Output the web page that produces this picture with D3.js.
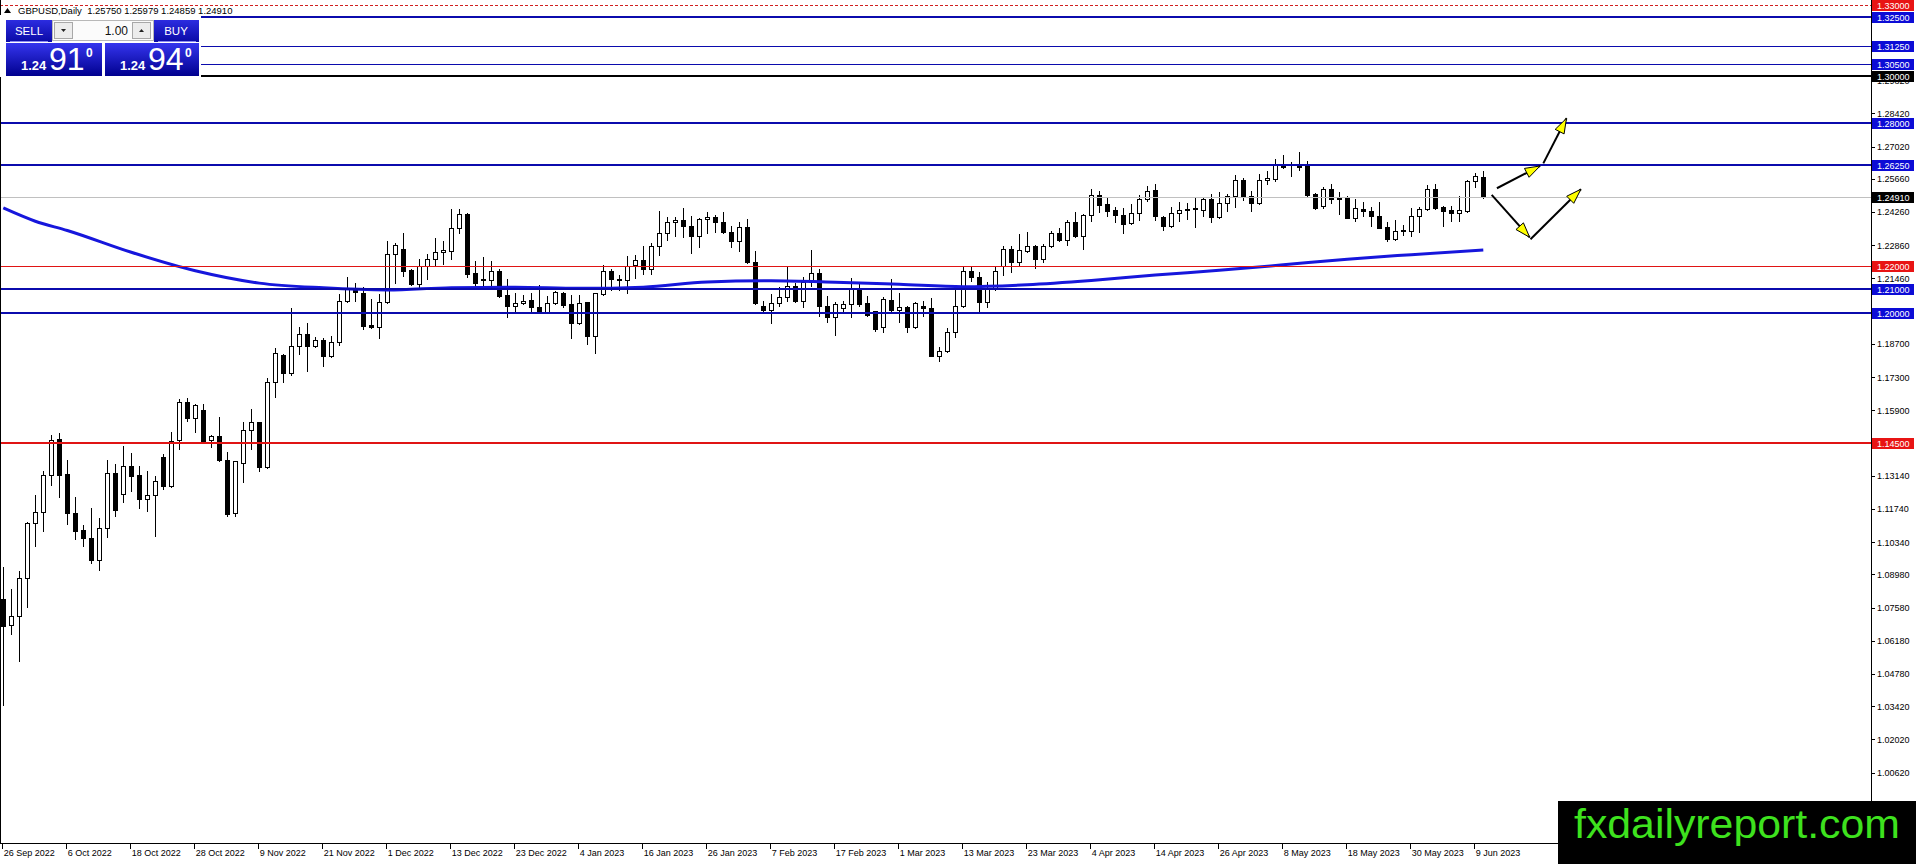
<!DOCTYPE html>
<html>
<head>
<meta charset="utf-8">
<script src="https://cdn.jsdelivr.net/npm/d3@7"></script>
<style>
  html, body { margin: 0; padding: 0; background: #fff; overflow: hidden; }
  svg { display: block; font-family: "Liberation Sans", Arial, sans-serif; }
</style>
</head>
<body>
<div id="vis"></div>
<script>
const W = 1916, H = 864;
const plot = { left: 0, right: 1871, top: 0, bottom: 843 };

// --- daily GBPUSD candles, 26 Sep 2022 .. 12 Jun 2023 ---
const opens = [
  1.0794,1.0685,1.0724,1.0881,1.1114,1.1159,1.1317,1.1468,1.1321,1.1155,1.1085,1.1051,1.0960,1.1092,1.1325,1.1235,
  1.1353,1.1317,1.1216,1.1232,1.1391,1.1272,1.1466,1.1623,1.1556,1.1591,1.1463,1.1480,1.1381,1.1155,1.1367,1.1508,
  1.1539,1.1349,1.1707,1.1822,1.1749,1.1859,1.1910,1.1859,1.1886,1.1817,1.1879,1.2049,1.2105,1.2086,1.1948,1.1940,
  1.2048,1.2249,1.2269,1.2182,1.2121,1.2199,1.2227,1.2256,1.2263,1.2357,1.2418,1.2168,1.2144,1.2138,1.2179,1.2076,
  1.2031,1.2041,1.2055,1.2024,1.2006,1.2044,1.2083,1.2038,1.1957,1.2045,1.1903,1.2079,1.2177,1.2142,1.2140,1.2203,
  1.2224,1.2184,1.2283,1.2336,1.2383,1.2392,1.2368,1.2326,1.2395,1.2404,1.2383,1.2340,1.2305,1.2361,1.2217,1.2031,
  1.2014,1.2041,1.2066,1.2112,1.2052,1.2132,1.2167,1.2028,1.1982,1.2020,1.2036,1.2101,1.2041,1.2007,1.1939,1.2056,
  1.2014,1.2024,1.1939,1.2029,1.2020,1.1820,1.1838,1.1918,1.2028,1.2178,1.2150,1.2048,1.2101,1.2199,1.2270,1.2213,
  1.2263,1.2284,1.2227,1.2281,1.2337,1.2309,1.2385,1.2326,1.2413,1.2497,1.2458,1.2434,1.2413,1.2378,1.2421,1.2480,
  1.2520,1.2403,1.2368,1.2420,1.2438,1.2437,1.2434,1.2480,1.2403,1.2464,1.2492,1.2561,1.2492,1.2464,1.2561,1.2565,
  1.2624,1.2617,1.2621,1.2621,1.2502,1.2452,1.2523,1.2485,1.2485,1.2402,1.2438,1.2431,1.2407,1.2361,1.2312,1.2344,
  1.2347,1.2407,1.2438,1.2523,1.2445,1.2434,1.2422,1.2431,1.2555,1.2575
];
const highs = [
  1.0929,1.0836,1.0914,1.1118,1.1232,1.1335,1.1487,1.1494,1.1380,1.1223,1.1106,1.1178,1.1134,1.1380,1.1363,1.1440,
  1.1409,1.1356,1.1335,1.1311,1.1405,1.1497,1.1637,1.1640,1.1616,1.1616,1.1487,1.1560,1.1415,1.1377,1.1539,1.1595,
  1.1542,1.1728,1.1851,1.1827,1.2023,1.1939,1.1957,1.1897,1.1893,1.1901,1.2080,1.2150,1.2126,1.2109,1.2058,1.2081,
  1.2304,1.2297,1.2339,1.2184,1.2227,1.2249,1.2315,1.2305,1.2437,1.2437,1.2421,1.2220,1.2235,1.2220,1.2184,1.2142,
  1.2083,1.2076,1.2083,1.2117,1.2072,1.2093,1.2089,1.2076,1.2076,1.2047,1.2086,1.2203,1.2184,1.2161,1.2241,1.2245,
  1.2283,1.2294,1.2428,1.2404,1.2404,1.2442,1.2409,1.2399,1.2425,1.2413,1.2425,1.2367,1.2385,1.2395,1.2263,1.2052,
  1.2080,1.2108,1.2195,1.2126,1.2150,1.2267,1.2185,1.2073,1.2045,1.2052,1.2147,1.2129,1.2073,1.2010,1.2066,1.2143,
  1.2084,1.2031,1.2045,1.2052,1.2062,1.1855,1.1935,1.2101,1.2197,1.2199,1.2171,1.2129,1.2197,1.2281,1.2281,1.2333,
  1.2340,1.2287,1.2291,1.2347,1.2357,1.2392,1.2424,1.2417,1.2523,1.2513,1.2487,1.2445,1.2441,1.2459,1.2497,1.2534,
  1.2544,1.2407,1.2445,1.2469,1.2464,1.2483,1.2487,1.2502,1.2511,1.2502,1.2582,1.2568,1.2516,1.2586,1.2600,1.2649,
  1.2666,1.2638,1.2677,1.2641,1.2506,1.2530,1.2544,1.2509,1.2492,1.2480,1.2469,1.2445,1.2466,1.2382,1.2392,1.2371,
  1.2441,1.2445,1.2540,1.2544,1.2452,1.2452,1.2495,1.2562,1.2590,1.25979
];
const lows = [
  1.0347,1.0647,1.0534,1.0759,1.1019,1.1082,1.1275,1.1223,1.1110,1.1047,1.1016,1.0946,1.0918,1.1054,1.1145,1.1204,
  1.1251,1.1178,1.1166,1.1058,1.1258,1.1265,1.1426,1.1546,1.1499,1.1454,1.1433,1.1377,1.1145,1.1142,1.1286,1.1426,
  1.1335,1.1345,1.1644,1.1707,1.1738,1.1827,1.1756,1.1855,1.1775,1.1813,1.1865,1.2045,1.2052,1.1932,1.1938,1.1894,
  1.2044,1.2128,1.2154,1.2118,1.2104,1.2145,1.2199,1.2207,1.2227,1.2339,1.2151,1.2114,1.2114,1.2114,1.2069,1.1985,
  1.2010,1.2038,1.2002,1.2002,1.2003,1.2038,1.2027,1.1894,1.1954,1.1870,1.1833,1.2076,1.2095,1.2095,1.2083,1.2146,
  1.2165,1.2165,1.2245,1.2308,1.2325,1.2322,1.2255,1.2277,1.2336,1.2343,1.2336,1.2280,1.2263,1.2210,1.2038,1.2003,
  1.1956,1.2031,1.2052,1.2045,1.2027,1.2115,1.1986,1.1961,1.1909,1.2010,1.1982,1.2031,1.1989,1.1925,1.1918,1.2010,
  1.1961,1.1921,1.1937,1.1989,1.1817,1.1799,1.1834,1.1897,1.2027,1.2133,1.2003,1.2024,1.2098,1.2160,1.2174,1.2202,
  1.2258,1.2188,1.2216,1.2277,1.2305,1.2287,1.2322,1.2270,1.2389,1.2427,1.2410,1.2385,1.2337,1.2375,1.2392,1.2473,
  1.2393,1.2351,1.2364,1.2389,1.2396,1.2364,1.2407,1.2385,1.2399,1.2431,1.2445,1.2478,1.2431,1.2459,1.2544,1.2558,
  1.2610,1.2576,1.2604,1.2495,1.2438,1.2441,1.2464,1.2417,1.2399,1.2389,1.2410,1.2368,1.2357,1.2305,1.2309,1.2329,
  1.2323,1.2343,1.2436,1.2438,1.2365,1.2389,1.2389,1.2427,1.2530,1.24859
];
const closes = [
  1.0682,1.0724,1.0881,1.1114,1.1159,1.1317,1.1466,1.1318,1.1155,1.1082,1.1050,1.0960,1.1092,1.1325,1.1171,1.1353,
  1.1314,1.1216,1.1232,1.1291,1.1272,1.1461,1.1623,1.1556,1.1612,1.1459,1.1480,1.1381,1.1152,1.1374,1.1508,1.1539,
  1.1349,1.1707,1.1830,1.1749,1.1859,1.1910,1.1859,1.1886,1.1817,1.1879,1.2049,1.2105,1.2087,1.1946,1.1941,1.2048,
  1.2249,1.2287,1.2179,1.2121,1.2199,1.2227,1.2256,1.2266,1.2357,1.2416,1.2165,1.2128,1.2138,1.2177,1.2073,1.2031,
  1.2041,1.2052,1.2024,1.2010,1.2044,1.2088,1.2034,1.1957,1.2044,1.1901,1.2083,1.2177,1.2142,1.2140,1.2199,1.2224,
  1.2184,1.2283,1.2339,1.2383,1.2392,1.2368,1.2326,1.2397,1.2404,1.2385,1.2343,1.2305,1.2361,1.2213,1.2044,1.2014,
  1.2041,1.2066,1.2112,1.2052,1.2132,1.2167,1.2028,1.1982,1.2036,1.2036,1.2101,1.2038,1.1991,1.1932,1.2059,1.2014,
  1.2025,1.1939,1.2041,1.2020,1.1820,1.1838,1.1918,1.2028,1.2178,1.2150,1.2048,1.2101,1.2176,1.2270,1.2213,1.2265,
  1.2284,1.2227,1.2281,1.2337,1.2309,1.2385,1.2326,1.2413,1.2497,1.2456,1.2431,1.2413,1.2375,1.2421,1.2480,1.2516,
  1.2407,1.2368,1.2420,1.2434,1.2434,1.2441,1.2480,1.2403,1.2464,1.2492,1.2561,1.2492,1.2464,1.2561,1.2568,1.2624,
  1.2614,1.2614,1.2614,1.2499,1.2441,1.2523,1.2481,1.2481,1.2402,1.2441,1.2431,1.2407,1.2358,1.2312,1.2344,1.2348,
  1.2407,1.2438,1.2523,1.2443,1.2428,1.2422,1.2434,1.2558,1.2576,1.24910
];

// 200-day moving average, read at these bar positions
const maBars   = [0, 4, 8, 16, 24, 32, 40, 48, 56, 64, 72, 80, 88, 96, 104, 112, 120, 128, 136, 144, 152, 160, 168, 176, 185];
const maValues = [1.2443, 1.2387, 1.2348, 1.2256, 1.2178, 1.2126, 1.2106, 1.2097, 1.2107, 1.2109, 1.2104, 1.2109, 1.2131,
                  1.2136, 1.2130, 1.2121, 1.2111, 1.2119, 1.2137, 1.2160, 1.2180, 1.2203, 1.2227, 1.2246, 1.2266];

// date labels, one every 8 bars
const dateLabels = ['26 Sep 2022', '6 Oct 2022', '18 Oct 2022', '28 Oct 2022', '9 Nov 2022', '21 Nov 2022', '1 Dec 2022',
  '13 Dec 2022', '23 Dec 2022', '4 Jan 2023', '16 Jan 2023', '26 Jan 2023', '7 Feb 2023', '17 Feb 2023', '1 Mar 2023',
  '13 Mar 2023', '23 Mar 2023', '4 Apr 2023', '14 Apr 2023', '26 Apr 2023', '8 May 2023', '18 May 2023', '30 May 2023', '9 Jun 2023'];
const dateStep = 8;

const priceTicks = [1.29820, 1.28420, 1.27020, 1.25660, 1.24260, 1.22860, 1.21460, 1.18700, 1.17300, 1.15900, 1.13140,
  1.11740, 1.10340, 1.08980, 1.07580, 1.06180, 1.04780, 1.03420, 1.02020, 1.00620];

// horizontal levels drawn on the chart
const levelPrices = [1.33, 1.325, 1.3125, 1.305, 1.30, 1.28, 1.2625, 1.2491, 1.22, 1.21, 1.20, 1.145];
const levelKinds  = ['alert', 'major', 'minor', 'minor', 'round', 'major', 'major', 'bid', 'redThin', 'major', 'major', 'red'];

// projected paths (bar index, price)
const arrowPaths = [
  [[186.7, 1.2526], [192.1, 1.2620]],
  [[192.5, 1.2631], [195.4, 1.2821]],
  [[186.05, 1.2498], [190.8, 1.2319]],
  [[190.9, 1.2311], [197.2, 1.2522]]
];

const header = 'GBPUSD,Daily  1.25750 1.25979 1.24859 1.24910';

const LINE_STYLES = {
  alert:   { stroke: '#d02020', width: 1, dash: '3,2', label: '#e81414' },
  major:   { stroke: '#0b0bad', width: 2, dash: null,  label: '#0c0cd6' },
  minor:   { stroke: '#0b0bad', width: 1, dash: null,  label: '#0c0cd6' },
  round:   { stroke: '#000000', width: 2, dash: null,  label: '#000000' },
  bid:     { stroke: '#c0c0c0', width: 1, dash: null,  label: '#000000' },
  redThin: { stroke: '#e01414', width: 1, dash: null,  label: '#e81414' },
  red:     { stroke: '#e01414', width: 2, dash: null,  label: '#e81414' }
};

const candles = opens.map((o, i) => ({ i, o, h: highs[i], l: lows[i], c: closes[i] }));

const xScale = d3.scaleLinear().domain([0, candles.length - 1]).range([3.3, 3.3 + 8 * (candles.length - 1)]);
const yScale = d3.scaleLinear().domain([1.20, 1.33]).range([313, 4.7]);

const px = v => Math.round(v) + 0.5;   // crisp 1px lines

const svg = d3.select('#vis').append('svg')
  .attr('width', W).attr('height', H);

const defs = svg.append('defs');
defs.append('clipPath').attr('id', 'plotClip')
  .append('rect').attr('x', plot.left).attr('y', plot.top)
  .attr('width', plot.right - plot.left).attr('height', plot.bottom - plot.top);

function gradient(id, top, bottom) {
  const g = defs.append('linearGradient').attr('id', id).attr('x1', 0).attr('y1', 0).attr('x2', 0).attr('y2', 1);
  g.append('stop').attr('offset', '0%').attr('stop-color', top);
  g.append('stop').attr('offset', '100%').attr('stop-color', bottom);
}
gradient('btnGrad', '#2c2ce0', '#0a0aa6');
gradient('priceGrad', '#3535ee', '#00008e');

svg.append('rect').attr('width', W).attr('height', H).attr('fill', '#fff');

const chart = svg.append('g').attr('clip-path', 'url(#plotClip)');

function drawCandles() {
  const g = chart.append('g').attr('class', 'candles');

  g.selectAll('line.wick')
    .data(candles)
    .join('line')
      .attr('class', 'wick')
      .attr('x1', d => px(xScale(d.i))).attr('x2', d => px(xScale(d.i)))
      .attr('y1', d => Math.round(yScale(d.h))).attr('y2', d => Math.round(yScale(d.l)) + 1)
      .attr('stroke', '#000').attr('stroke-width', 1);

  g.selectAll('rect.body')
    .data(candles)
    .join('rect')
      .attr('class', 'body')
      .attr('x', d => px(xScale(d.i)) - 2)
      .attr('width', 4)
      .attr('y', d => px(yScale(Math.max(d.o, d.c))))
      .attr('height', d => Math.max(0, px(yScale(Math.min(d.o, d.c))) - px(yScale(Math.max(d.o, d.c)))))
      .attr('fill', d => d.c >= d.o ? '#fff' : '#000')
      .attr('stroke', '#000').attr('stroke-width', 1);
}

function drawMovingAverage() {
  const line = d3.line()
    .x(d => xScale(d[0]))
    .y(d => yScale(d[1]))
    .curve(d3.curveMonotoneX);

  chart.append('path')
    .datum(maBars.map((b, k) => [b, maValues[k]]))
    .attr('d', line)
    .attr('fill', 'none')
    .attr('stroke', '#1616dc')
    .attr('stroke-width', 3);
}

function drawLevels() {
  const levels = levelPrices.map((p, k) => ({ p, style: LINE_STYLES[levelKinds[k]] }));
  chart.selectAll('line.level')
    .data(levels)
    .join('line')
      .attr('class', 'level')
      .attr('x1', plot.left).attr('x2', plot.right)
      .attr('y1', d => d.style.width === 1 ? px(yScale(d.p)) : Math.round(yScale(d.p)))
      .attr('y2', d => d.style.width === 1 ? px(yScale(d.p)) : Math.round(yScale(d.p)))
      .attr('stroke', d => d.style.stroke)
      .attr('stroke-width', d => d.style.width)
      .attr('stroke-dasharray', d => d.style.dash);
  return levels;
}

function drawArrows() {
  const g = chart.append('g').attr('class', 'arrows');
  arrowPaths.forEach(seg => {
    const [a, b] = seg.map(d => [xScale(d[0]), yScale(d[1])]);
    g.append('line')
      .attr('x1', a[0]).attr('y1', a[1]).attr('x2', b[0]).attr('y2', b[1])
      .attr('stroke', '#000').attr('stroke-width', 2);
    const dx = b[0] - a[0], dy = b[1] - a[1];
    const len = Math.hypot(dx, dy);
    const ux = dx / len, uy = dy / len;
    const L = 15, w = 5;
    const bx = b[0] - ux * L, by = b[1] - uy * L;
    g.append('path')
      .attr('d', `M${b[0]},${b[1]}L${bx - uy * w},${by + ux * w}L${bx + uy * w},${by - ux * w}Z`)
      .attr('fill', '#ffff00').attr('stroke', '#000').attr('stroke-width', 1);
  });
}

function drawAxes(levels) {
  const g = svg.append('g').attr('class', 'axes');

  // price axis
  g.append('line')
    .attr('x1', px(plot.right)).attr('x2', px(plot.right))
    .attr('y1', 0).attr('y2', plot.bottom + 1)
    .attr('stroke', '#000');
  g.append('line')
    .attr('x1', plot.left).attr('x2', px(plot.right))
    .attr('y1', px(plot.bottom)).attr('y2', px(plot.bottom))
    .attr('stroke', '#000');

  g.selectAll('line.ptick')
    .data(priceTicks)
    .join('line')
      .attr('class', 'ptick')
      .attr('x1', plot.right + 1).attr('x2', plot.right + 4)
      .attr('y1', d => px(yScale(d))).attr('y2', d => px(yScale(d)))
      .attr('stroke', '#000');
  g.selectAll('text.ptick')
    .data(priceTicks)
    .join('text')
      .attr('class', 'ptick')
      .attr('x', plot.right + 6)
      .attr('y', d => yScale(d) + 3.5)
      .attr('font-size', 9)
      .attr('fill', '#000')
      .text(d => d.toFixed(5));

  // labels of the drawn levels sit on top of the scale
  const lab = g.selectAll('g.plabel')
    .data(levels)
    .join('g')
      .attr('class', 'plabel')
      .attr('transform', d => `translate(${plot.right + 1},${Math.round(yScale(d.p))})`);
  lab.append('rect')
    .attr('x', 0).attr('y', -5).attr('width', 42).attr('height', 11)
    .attr('fill', d => d.style.label);
  lab.append('text')
    .attr('x', 5).attr('y', 3.8)
    .attr('font-size', 9)
    .attr('fill', '#fff')
    .text(d => d.p.toFixed(5));

  // time axis
  const ticks = dateLabels.map((t, k) => ({ t, i: k * dateStep }));
  g.selectAll('line.dtick')
    .data(ticks)
    .join('line')
      .attr('class', 'dtick')
      .attr('x1', d => px(xScale(d.i)) - 1).attr('x2', d => px(xScale(d.i)) - 1)
      .attr('y1', plot.bottom + 1).attr('y2', plot.bottom + 6)
      .attr('stroke', '#000');
  g.selectAll('text.dtick')
    .data(ticks)
    .join('text')
      .attr('class', 'dtick')
      .attr('x', d => xScale(d.i) + 0.5)
      .attr('y', plot.bottom + 13)
      .attr('font-size', 9)
      .attr('fill', '#000')
      .text(d => d.t);
}

function drawPanel() {
  const g = svg.append('g').attr('class', 'panel');

  g.append('rect').attr('x', 0).attr('y', 15).attr('width', 201).attr('height', 62).attr('fill', '#fff');

  g.append('path').attr('d', 'M4,13L7.5,8L11,13Z').attr('fill', '#000');
  g.append('text').attr('x', 18).attr('y', 14).attr('font-size', 9.5).attr('fill', '#000')
    .attr('xml:space', 'preserve').text(header);

  // SELL / BUY buttons
  g.append('rect').attr('x', 6).attr('y', 20).attr('width', 46).attr('height', 22).attr('fill', 'url(#btnGrad)');
  g.append('rect').attr('x', 154).attr('y', 20).attr('width', 45).attr('height', 22).attr('fill', 'url(#btnGrad)');
  g.append('text').attr('x', 29).attr('y', 35).attr('text-anchor', 'middle').attr('font-size', 11.5)
    .attr('fill', '#fff').text('SELL');
  g.append('text').attr('x', 176).attr('y', 35).attr('text-anchor', 'middle').attr('font-size', 11.5)
    .attr('fill', '#fff').text('BUY');
  g.append('line').attr('x1', 10).attr('x2', 48).attr('y1', 41.5).attr('y2', 41.5).attr('stroke', '#8a8af0');
  g.append('line').attr('x1', 158).attr('x2', 196).attr('y1', 41.5).attr('y2', 41.5).attr('stroke', '#8a8af0');

  // lot box
  g.append('rect').attr('x', 52.5).attr('y', 20.5).attr('width', 101).attr('height', 20)
    .attr('fill', '#fbfbfb').attr('stroke', '#b8b8b8');
  g.append('rect').attr('x', 54.5).attr('y', 22.5).attr('width', 18).attr('height', 16)
    .attr('fill', '#ececec').attr('stroke', '#a8a8a8');
  g.append('rect').attr('x', 132.5).attr('y', 22.5).attr('width', 18).attr('height', 16)
    .attr('fill', '#ececec').attr('stroke', '#a8a8a8');
  g.append('path').attr('d', 'M61,29L66,29L63.5,32Z').attr('fill', '#222');
  g.append('path').attr('d', 'M139,32L144,32L141.5,29Z').attr('fill', '#222');
  g.append('text').attr('x', 128).attr('y', 35).attr('text-anchor', 'end').attr('font-size', 12)
    .attr('fill', '#111').text('1.00');

  // quote boxes
  const quotes = [
    { x: 6, w: 96, big: '91' },
    { x: 105, w: 94, big: '94' }
  ];
  quotes.forEach(q => {
    g.append('rect').attr('x', q.x).attr('y', 43).attr('width', q.w).attr('height', 33).attr('fill', 'url(#priceGrad)');
    g.append('text').attr('x', q.x + 15).attr('y', 70).attr('font-size', 13).attr('font-weight', 'bold')
      .attr('fill', '#fff').text('1.24');
    g.append('text').attr('x', q.x + 43).attr('y', 70).attr('font-size', 32)
      .attr('fill', '#fff').text(q.big);
    g.append('text').attr('x', q.x + 80).attr('y', 57).attr('font-size', 12).attr('font-weight', 'bold')
      .attr('fill', '#fff').text('0');
  });
}

function drawLogo() {
  const g = svg.append('g').attr('class', 'logo');
  g.append('rect').attr('x', 1558).attr('y', 801).attr('width', W - 1558).attr('height', H - 801).attr('fill', '#000');
  g.append('text')
    .attr('x', 1574).attr('y', 838)
    .attr('font-size', 40)
    .attr('textLength', 326).attr('lengthAdjust', 'spacingAndGlyphs')
    .attr('fill', '#3ee21e')
    .text('fxdailyreport.com');
}

function init() {
  drawCandles();
  drawMovingAverage();
  const levels = drawLevels();
  drawArrows();
  svg.append('line').attr('x1', 0.5).attr('x2', 0.5).attr('y1', 0).attr('y2', plot.bottom).attr('stroke', '#000');
  drawAxes(levels);
  drawPanel();
  drawLogo();
}

init();
</script>
</body>
</html>
